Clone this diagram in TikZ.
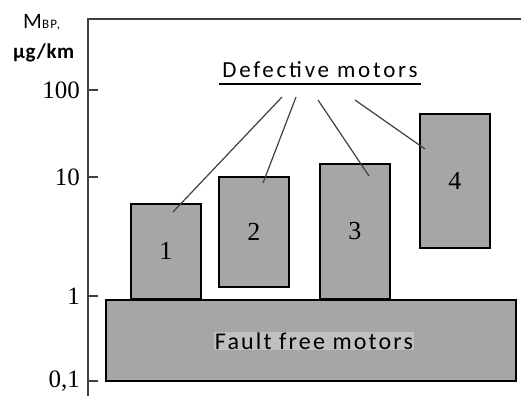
\documentclass[tikz,border=0pt]{standalone}
\usepackage{fontspec}
\setmainfont{Liberation Serif}
\newfontfamily\calibri{Carlito}
\newfontfamily\calibriwide[LetterSpace=9]{Carlito}
\definecolor{boxgray}{HTML}{A6A6A6}
\definecolor{hlgray}{HTML}{C0C0C0}
\definecolor{axisgray}{HTML}{404040}

\begin{document}
\begin{tikzpicture}[x=1pt,y=-1pt,
  box/.style={draw=black, line width=1.6pt, fill=boxgray, anchor=north west, inner sep=0pt, font=\fontsize{26}{26}\selectfont},
  link/.style={draw=axisgray, line width=1.2pt},
  ticklabel/.style={anchor=east, inner sep=0pt, font=\fontsize{25}{25}\selectfont}]

\useasboundingbox (0,0) rectangle (521,396);

% les axes
\draw[axisgray, line width=2pt] (88,396) -- (88,19) -- (521,19);
\node[anchor=base west, inner sep=0pt, font=\calibri\fontsize{22}{22}\selectfont] (mbp) at (23,29) {M{\fontsize{13}{13}\selectfont\addfontfeature{LetterSpace=10}BP,}};
\node[anchor=base west, inner sep=0pt, font=\calibri\bfseries\fontsize{21}{21}\selectfont] (unit) at (13,59) {\addfontfeature{LetterSpace=3}µg/km};

\foreach \y/\val in {90/100, 177/10, 296/1, 381/{0,1}}{
    \draw[axisgray, line width=1.6pt] (88,\y) -- (98,\y);
    \node[ticklabel] at (80,\y) {\val};
}

% les moteurs
\node[box, minimum width=410, minimum height=81] (ff) at (105,299) {};
\node[fill=hlgray, inner sep=1pt, font=\calibriwide\fontsize{24}{24}\selectfont] (fftext) at (314,341) {Fault free motors};

\node[box, minimum width=70, minimum height=95] (b1) at (130,203) {1};
\node[box, minimum width=70, minimum height=110] (b2) at (218,176) {2};
\node[box, minimum width=70, minimum height=135] (b3) at (319,163) {3};
\node[box, minimum width=70, minimum height=134] (b4) at (419,113) {4};

\node[font=\calibriwide\fontsize{23}{23}\selectfont] (title) at (320,70) {\addfontfeature{LetterSpace=12}Defective motors};
\draw[black, line width=1.3pt] ([yshift=-6pt]title.base west) -- ([yshift=-6pt]title.base east);

% les traits
\coordinate (s1) at (282,97);  \coordinate (e1) at (173,212);
\coordinate (s2) at (296,97);  \coordinate (e2) at (263,183);
\coordinate (s3) at (318,100); \coordinate (e3) at (369,176);
\coordinate (s4) at (355,100); \coordinate (e4) at (425,149);
\foreach \i in {1,...,4}{
    \draw[link] (s\i) -- (e\i);
}

\end{tikzpicture}
\end{document}
